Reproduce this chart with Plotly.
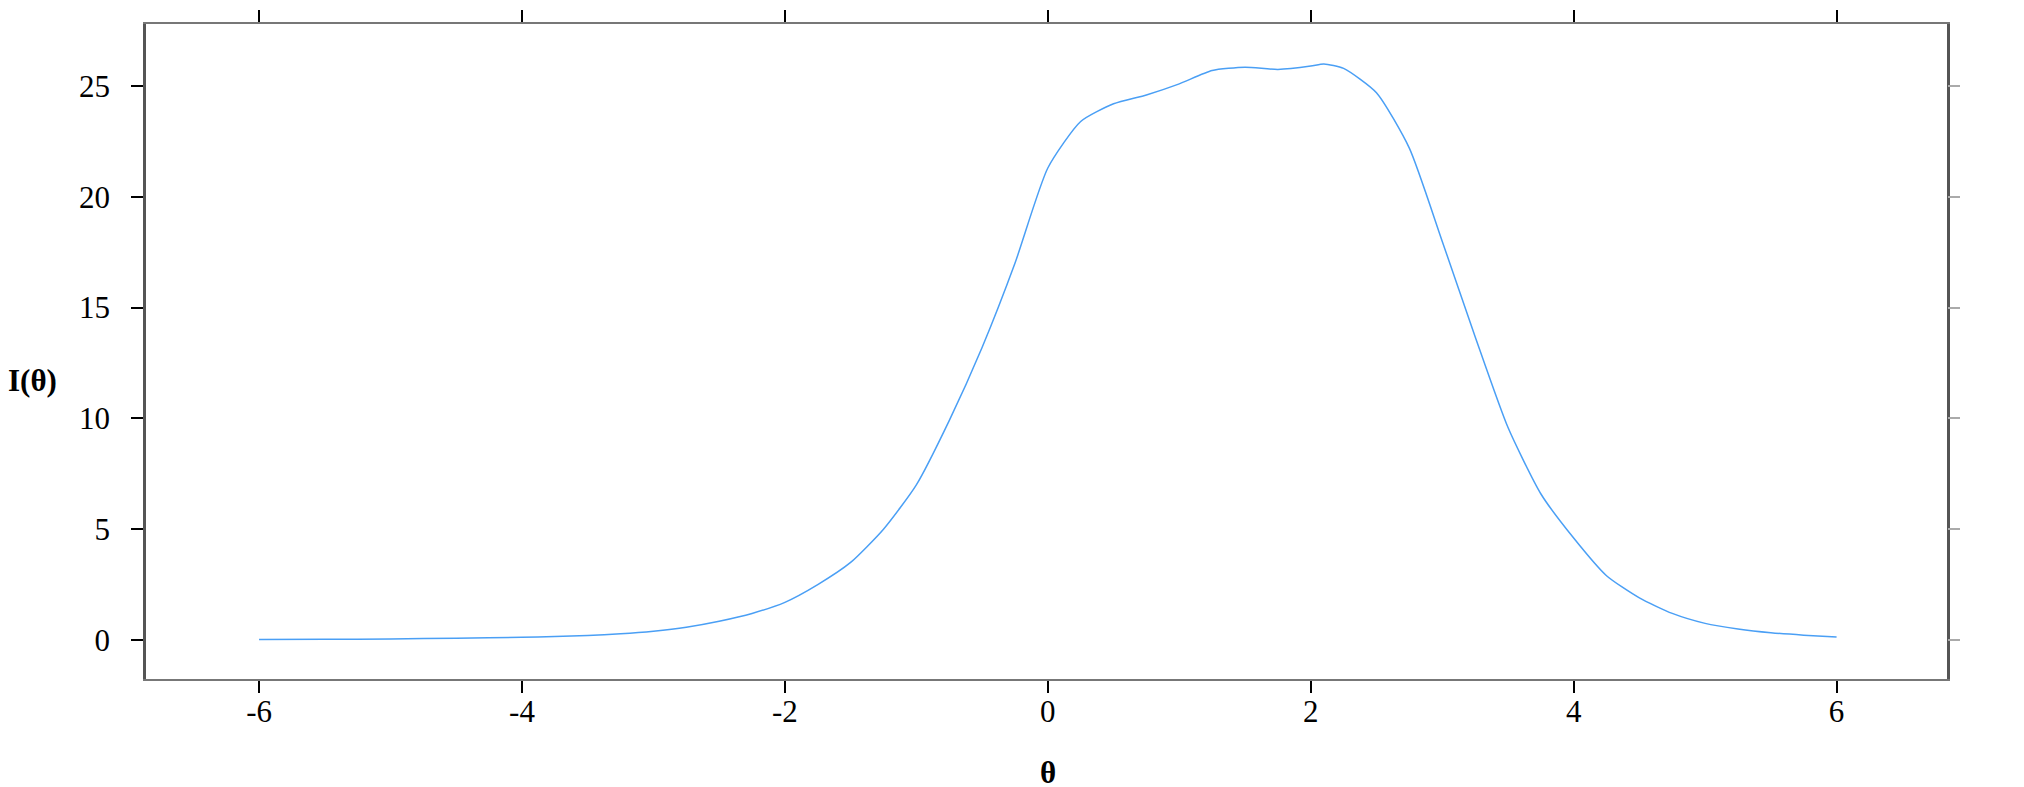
import plotly.graph_objects as go

# test information curve
theta = [-6.0, -5.5, -5.0, -4.5, -4.0, -3.75, -3.5, -3.25, -3.0, -2.75, -2.5, -2.25,
         -2.0, -1.75, -1.5, -1.25, -1.0, -0.75, -0.5, -0.25, 0.0, 0.25, 0.5, 0.75,
         1.0, 1.25, 1.5, 1.75, 2.0, 2.1, 2.25, 2.5, 2.75, 3.0, 3.25, 3.5, 3.75,
         4.0, 4.25, 4.5, 4.75, 5.0, 5.25, 5.5, 5.75, 6.0]
info = [0.02, 0.03, 0.05, 0.08, 0.12, 0.16, 0.2, 0.28, 0.4, 0.58, 0.85, 1.2,
        1.7, 2.5, 3.5, 5.0, 7.0, 9.9, 13.2, 17.0, 21.3, 23.4, 24.2, 24.6,
        25.1, 25.7, 25.85, 25.75, 25.9, 26.0, 25.8, 24.7, 22.2, 18.0, 13.7, 9.6, 6.6,
        4.6, 2.9, 1.9, 1.2, 0.75, 0.5, 0.33, 0.22, 0.14]

x_ticks = [-6, -4, -2, 0, 2, 4, 6]
x_labels = ["-6", "-4", "-2", "0", "2", "4", "6"]
y_ticks = [0, 5, 10, 15, 20, 25]

serif = "Liberation Serif"

fig = go.Figure()
fig.add_trace(go.Scatter(x=theta, y=info, mode="lines",
                         line=dict(color="#4a9ff5", width=1.5, shape="spline", smoothing=0.6),
                         showlegend=False))
# invisible trace for the right hand axis
fig.add_trace(go.Scatter(x=[theta[0]], y=[info[0]], yaxis="y2", mode="lines",
                         line=dict(width=0), showlegend=False, hoverinfo="skip"))

fig.update_layout(
    width=2024, height=787,
    margin=dict(l=138, r=85, t=16, b=116, autoexpand=False),
    paper_bgcolor="white", plot_bgcolor="white",
    font=dict(family=serif, size=31, color="black"),
    xaxis=dict(range=[-6.86, 6.84], tickvals=x_ticks, ticktext=x_labels,
               ticks="outside", ticklen=12, tickwidth=2, tickcolor="black",
               showline=True, linecolor="#777", linewidth=2, mirror="allticks",
               showgrid=False, zeroline=False, ticklabelstandoff=-8, automargin=False),
    yaxis=dict(range=[-1.76, 27.8], tickvals=y_ticks, ticks="outside", ticklen=12,
               tickwidth=2, tickcolor="black", showline=True, linecolor="#555",
               linewidth=2.5, mirror=True, showgrid=False, zeroline=False,
               ticklabelstandoff=15, automargin=False),
    yaxis2=dict(overlaying="y", side="right", matches="y", tickvals=y_ticks,
                ticks="outside", ticklen=12, tickwidth=2, tickcolor="#aaa",
                showticklabels=False, showline=False, showgrid=False, zeroline=False,
                automargin=False),
    annotations=[
        dict(text="<b>I(θ)</b>", xref="paper", yref="paper", x=-0.063, y=0.455,
             xanchor="center", yanchor="middle", showarrow=False,
             font=dict(family=serif, size=31)),
        dict(text="<b>θ</b>", xref="x", yref="paper", x=0, y=-0.1435,
             xanchor="center", yanchor="middle", showarrow=False,
             font=dict(family=serif, size=31)),
    ],
)

fig.write_html("out.html")
